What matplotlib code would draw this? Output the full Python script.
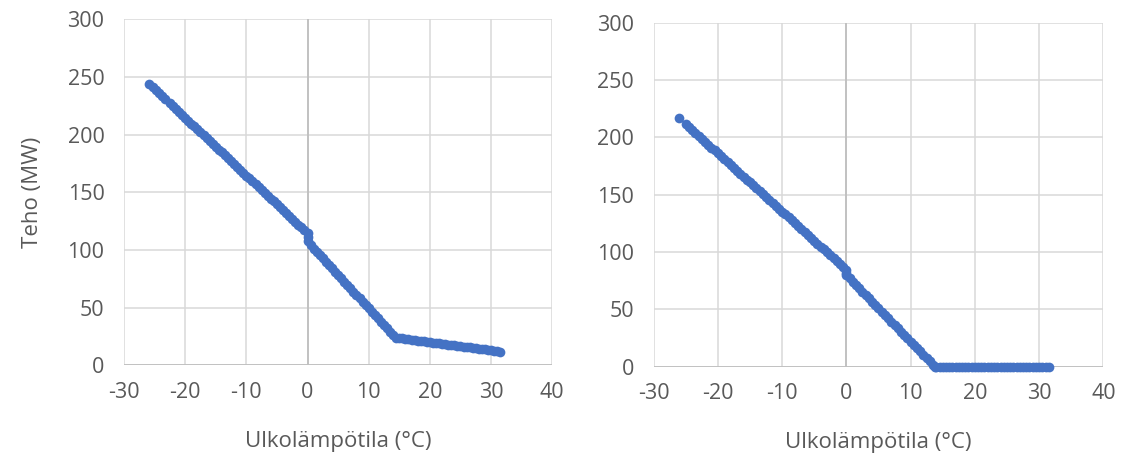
import matplotlib
matplotlib.use("Agg")
import matplotlib.pyplot as plt

# Lämpöteho ulkolämpötilan funktiona, kaksi tapausta
left_temp = [-25.9, -25.3, -24.8, -24.3, -23.8, -23.3, -22.5, -22.0, -21.5, -21.0,
             -20.5, -20.0, -19.5, -19.0, -18.5, -18.0, -17.5, -17.0, -16.5, -16.0,
             -15.5, -15.0, -14.5, -14.0, -13.5, -13.0, -12.5, -12.0, -11.5, -11.0,
             -10.5, -10.0, -9.5, -9.0, -8.5, -8.0, -7.5, -7.0, -6.5, -6.0,
             -5.5, -5.0, -4.5, -4.0, -3.5, -3.0, -2.5, -2.0, -1.5, -1.0,
             -0.5, 0.0, 0.0, 0.0,
             0.5, 1.0, 1.5, 2.0, 2.5, 3.0, 3.5, 4.0, 4.5, 5.0,
             5.5, 6.0, 6.5, 7.0, 7.5, 8.0, 8.5, 9.0, 9.5, 10.0,
             10.5, 11.0, 11.5, 12.0, 12.5, 13.0, 13.5, 14.0, 14.4,
             15.0, 15.5, 16.0, 16.5, 17.0, 17.5, 18.0, 18.5, 19.0, 19.5,
             20.0, 20.5, 21.0, 21.5, 22.0, 22.5, 23.0, 23.5, 24.0, 24.5,
             25.0, 25.5, 26.0, 26.5, 27.0, 27.5, 28.0, 28.5, 29.0, 29.5,
             30.0, 30.5, 31.0, 31.5]
left_power = [244.0, 241.0, 238.5, 236.0, 233.5, 231.0, 227.0, 224.5, 222.0, 219.5,
              217.0, 214.5, 212.0, 209.5, 207.0, 204.5, 202.0, 199.5, 197.0, 194.5,
              192.0, 189.5, 187.0, 184.5, 182.0, 179.5, 177.0, 174.5, 172.0, 169.5,
              167.0, 164.5, 162.0, 159.5, 157.0, 154.5, 152.0, 149.5, 147.0, 144.5,
              142.0, 139.5, 137.0, 134.5, 132.0, 129.5, 127.0, 124.5, 122.0, 119.5,
              117.0, 114.5, 111.0, 107.5,
              104.1, 101.2, 98.4, 95.5, 92.6, 89.7, 86.8, 84.0, 81.1, 78.2,
              75.3, 72.4, 69.6, 66.7, 63.8, 60.9, 58.0, 55.2, 52.3, 49.4,
              46.5, 43.6, 40.8, 37.9, 35.0, 32.1, 29.2, 26.4, 24.1,
              23.6, 23.3, 22.9, 22.6, 22.2, 21.9, 21.5, 21.2, 20.8, 20.5,
              20.1, 19.8, 19.4, 19.1, 18.7, 18.4, 18.0, 17.6, 17.3, 16.9,
              16.6, 16.2, 15.9, 15.5, 15.2, 14.8, 14.5, 14.1, 13.8, 13.4,
              13.1, 12.7, 12.4, 12.0]

right_temp = [-26.0, -25.0, -24.5, -24.0, -23.5, -23.0, -22.5, -22.0, -21.5, -21.0,
              -20.5, -20.0, -19.5, -19.0, -18.5, -18.0, -17.5, -17.0, -16.5, -16.0,
              -15.5, -15.0, -14.5, -14.0, -13.5, -13.0, -12.5, -12.0, -11.5, -11.0,
              -10.5, -10.0, -9.5, -9.0, -8.5, -8.0, -7.5, -7.0, -6.5, -6.0,
              -5.5, -5.0, -4.5, -4.0, -3.5, -3.0, -2.5, -2.0, -1.5, -1.0,
              -0.5, 0.0, 0.0, 0.0,
              0.5, 1.0, 1.5, 2.0, 2.5, 3.0, 3.5, 4.0, 4.5, 5.0,
              5.5, 6.0, 6.5, 7.0, 7.5, 8.0, 8.5, 9.0, 9.5, 10.0,
              10.5, 11.0, 11.5, 12.0, 12.5, 13.0, 13.5, 13.8,
              14.0, 14.5, 15.0, 15.5, 16.0, 16.5, 17.0, 17.5, 18.0, 18.5,
              19.0, 19.5, 20.0, 20.5, 21.0, 21.5, 22.0, 22.5, 23.0, 23.5,
              24.0, 24.5, 25.0, 25.5, 26.0, 26.5, 27.0, 27.5, 28.0, 28.5,
              29.0, 29.5, 30.0, 30.5, 31.0, 31.5]
right_power = [216.6, 211.5, 209.0, 206.4, 203.9, 201.3, 198.8, 196.3, 193.7, 191.2,
               188.6, 186.1, 183.6, 181.0, 178.5, 175.9, 173.4, 170.9, 168.3, 165.8,
               163.2, 160.7, 158.2, 155.6, 153.1, 150.5, 148.0, 145.5, 142.9, 140.4,
               137.8, 135.3, 132.8, 130.2, 127.7, 125.1, 122.6, 120.1, 117.5, 115.0,
               112.4, 109.9, 107.4, 104.8, 102.3, 99.7, 97.2, 94.7, 92.1, 89.6,
               87.0, 84.5, 82.0, 80.0,
               77.1, 74.2, 71.3, 68.4, 65.5, 62.6, 59.7, 56.8, 53.9, 51.0,
               48.1, 45.2, 42.3, 39.4, 36.5, 33.6, 30.7, 27.8, 24.9, 22.0,
               19.1, 16.2, 13.3, 10.4, 7.5, 4.6, 1.7, 0.0,
               0.0, 0.0, 0.0, 0.0, 0.0, 0.0, 0.0, 0.0, 0.0, 0.0,
               0.0, 0.0, 0.0, 0.0, 0.0, 0.0, 0.0, 0.0, 0.0, 0.0,
               0.0, 0.0, 0.0, 0.0, 0.0, 0.0, 0.0, 0.0, 0.0, 0.0,
               0.0, 0.0, 0.0, 0.0, 0.0, 0.0]

x_ticks = [-30, -20, -10, 0, 10, 20, 30, 40]
y_ticks = [0, 50, 100, 150, 200, 250, 300]

plt.rcParams["font.family"] = ["Open Sans", "DejaVu Sans"]
plt.rcParams["axes.unicode_minus"] = False
text_color = "#595959"
blue = "#4472C4"

fig = plt.figure(figsize=(11.27, 4.55), dpi=100)
ax1 = fig.add_axes([0.110, 0.197, 0.380, 0.761])
ax2 = fig.add_axes([0.580, 0.194, 0.399, 0.756])


def style_axes(ax):
    ax.set_xlim(-30, 40)
    ax.set_ylim(0, 300)
    ax.set_xticks(x_ticks)
    ax.set_yticks(y_ticks)
    ax.grid(True, color="#d9d9d9", linewidth=1.1)
    ax.set_axisbelow(True)
    for side in ["top", "right", "left", "bottom"]:
        ax.spines[side].set_visible(False)
    # vaaka- ja pystyakseli kulkevat nollan kautta
    ax.axhline(0, color="#bfbfbf", linewidth=1.3, zorder=1)
    ax.axvline(0, color="#bfbfbf", linewidth=1.3, zorder=1)
    ax.tick_params(length=0, labelsize=15.5, colors=text_color)
    ax.tick_params(axis="y", pad=14)
    ax.tick_params(axis="x", pad=12)
    ax.set_xlabel("Ulkolämpötila (°C)", fontsize=16, color=text_color, labelpad=20)


for ax, temp, power in [(ax1, left_temp, left_power), (ax2, right_temp, right_power)]:
    style_axes(ax)
    ax.plot(temp, power, "o", color=blue, markersize=7, markeredgewidth=0,
            clip_on=False, zorder=3)

ax1.set_ylabel("Teho (MW)", fontsize=16, color=text_color, labelpad=18)

fig.savefig("out.png", dpi=100, facecolor="white")
